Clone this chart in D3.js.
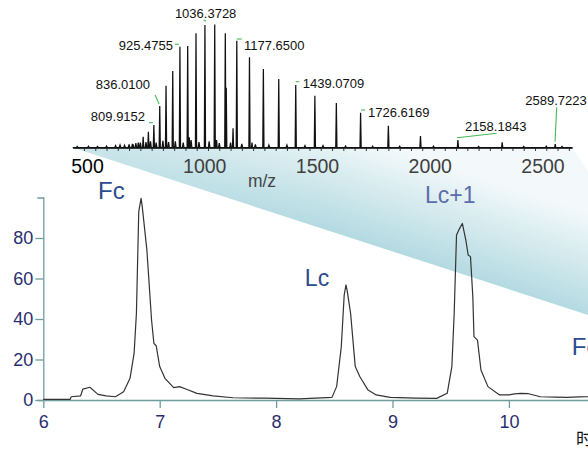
<!DOCTYPE html>
<html><head><meta charset="utf-8">
<script src="https://cdn.jsdelivr.net/npm/d3@7"></script>
<style>
html,body{margin:0;padding:0;background:#fff;overflow:hidden;}
svg{display:block;font-family:"Liberation Sans",Arial,Helvetica,sans-serif;}
</style></head>
<body>
<script>
// ---------- DATA ----------
// Mass spectrum (charge-state envelope), m/z and relative intensity
const peakMz  = [740.8, 762.5, 785.6, 809.9152, 836.0100, 863.9, 893.6, 925.4755, 959.9, 996.8, 1036.3728, 1079.8, 1126.7, 1177.6500, 1233.9, 1295.5, 1363.7, 1439.0709, 1523.9, 1619.1, 1726.6169, 1849.8, 1992.2, 2158.1843, 2354.5, 2589.7223];
const peakInt = [4, 8.8, 12.8, 18.3, 33.7, 50.2, 62.2, 82, 82.5, 92.8, 99.6, 100, 92.8, 86.8, 73.3, 63.8, 55.7, 50.8, 42.1, 36.2, 28.3, 17.7, 9.3, 6.1, 4.2, 2.8];
// satellite / minor peaks
const minorMz  = [718, 967, 1131, 1161, 1088, 1245];
const minorInt = [2.5, 8.4, 48.5, 15.7, 6, 4];
// baseline noise
const noiseMz  = [470, 520, 560, 600, 640, 660, 680, 700, 715, 730, 750, 775, 795, 820, 850, 875, 905, 940, 975, 1010, 1055, 1100, 1150, 1200, 1260, 1320, 1400, 1480, 1560, 1660, 1780, 1900, 2050, 2250, 2450, 2550, 2620];
const noiseInt = [0.8, 1, 0.8, 1.2, 1.5, 2, 1.8, 2.5, 3, 3.5, 4, 4.5, 5, 4, 5.5, 4.5, 5, 4, 6, 4.5, 5, 3.5, 4, 3, 2.5, 2, 2, 1.5, 1.5, 1.2, 1, 1, 1, 0.8, 0.8, 1, 0.8];
// labelled peaks
const labelMz = [809.9152, 836.0100, 925.4755, 1036.3728, 1177.6500, 1439.0709, 1726.6169, 2158.1843, 2589.7223];
const labelText = ["809.9152", "836.0100", "925.4755", "1036.3728", "1177.6500", "1439.0709", "1726.6169", "2158.1843", "2589.7223"];
const specTicks = [500, 1000, 1500, 2000, 2500];
const specAxisTitle = "m/z";

// Chromatogram
const time = [6.0, 6.23, 6.24, 6.32, 6.34, 6.40, 6.47, 6.54, 6.62, 6.69, 6.745, 6.78, 6.80, 6.82, 6.84, 6.85, 6.89, 6.93, 6.95, 6.97, 7.0, 7.045, 7.12, 7.17, 7.23, 7.32, 7.46, 7.63, 7.9, 8.2, 8.48, 8.52, 8.56, 8.585, 8.6, 8.61, 8.64, 8.68, 8.72, 8.79, 8.86, 8.98, 9.2, 9.38, 9.47, 9.51, 9.53, 9.55, 9.57, 9.60, 9.63, 9.65, 9.67, 9.69, 9.70, 9.73, 9.76, 9.82, 9.92, 10.0, 10.05, 10.1, 10.17, 10.27, 10.4, 10.5, 10.6, 10.68, 10.8];
const intensity = [0.3, 0.3, 1.6, 2.0, 5.4, 6.3, 2.8, 2.0, 1.6, 4.1, 10.7, 23, 42.8, 93, 99.6, 95.5, 74, 39.5, 28, 26.8, 16.5, 10.7, 6.1, 6.6, 5.3, 3.3, 2.0, 1.1, 0.9, 0.6, 1.3, 6.6, 26.3, 51.8, 56.8, 54.3, 42.8, 16.5, 11.5, 4.9, 2.5, 1.3, 0.9, 0.8, 3.3, 16.5, 42.8, 81.5, 84, 87.2, 79, 71.6, 70.8, 51, 31.3, 29.6, 14.8, 6.6, 2.5, 2.5, 3.0, 3.3, 3.1, 1.6, 1.4, 1.3, 1.5, 1.6, 1.4];
const xTicks = [6, 7, 8, 9, 10];
const yTicks = [0, 20, 40, 60, 80];
const peakNames = ["Fc", "Lc", "Lc+1", "Fc"];
const peakNameTimes = [6.47, 8.247, 9.279, 10.54];
const xAxisTitle = "时间";

// ---------- DRAWING ----------
const W = 588, H = 450;
const svg = d3.select("body").append("svg").attr("width", W).attr("height", H);
svg.append("rect").attr("width", W).attr("height", H).attr("fill", "#fff");

// scales
const sx = d3.scaleLinear().domain([450, 2665]).range([72.7, 572.2]);
const sy = d3.scaleLinear().domain([0, 100]).range([147.5, 24.5]);
const cx = d3.scaleLinear().domain([6, 11]).range([43.3, 625.3]);
const cy = d3.scaleLinear().domain([0, 100]).range([400, 197.5]);

// gradient wedge (decorative link between spectrum and chromatogram)
const defs = svg.append("defs");
const g1 = defs.append("linearGradient").attr("id", "wedgeGrad")
  .attr("gradientUnits", "userSpaceOnUse")
  .attr("x1", 400).attr("y1", 150).attr("x2", 369).attr("y2", 244);
g1.append("stop").attr("offset", 0).attr("stop-color", "#f3f9fa");
g1.append("stop").attr("offset", 1).attr("stop-color", "#b3dae1");
const g2 = defs.append("linearGradient").attr("id", "wedgeFade")
  .attr("gradientUnits", "userSpaceOnUse")
  .attr("x1", 70).attr("y1", 0).attr("x2", 330).attr("y2", 0);
g2.append("stop").attr("offset", 0).attr("stop-color", "#fff").attr("stop-opacity", 0.3);
g2.append("stop").attr("offset", 1).attr("stop-color", "#fff").attr("stop-opacity", 0);

const y0 = sy(0);
const slope = 0.325;
const wedgePts = [
  [sx(450), y0], [sx(2665), y0], [sx(2665) + 16, y0 + 24], [620, y0 + 24 + 1.45 * (620 - sx(2665) - 16)],
  [620, y0 + slope * (620 - sx(450))]
];
const wedge = d3.line()(wedgePts) + "Z";
svg.append("path").attr("d", wedge).attr("fill", "url(#wedgeGrad)");
svg.append("path").attr("d", wedge).attr("fill", "url(#wedgeFade)");

// ---- Spectrum ----
const allPeaks = [];
peakMz.forEach((m, i) => allPeaks.push({m, h: peakInt[i], w: 2.6}));
minorMz.forEach((m, i) => allPeaks.push({m, h: minorInt[i], w: 2.4}));
noiseMz.forEach((m, i) => allPeaks.push({m, h: noiseInt[i], w: 3.5}));
allPeaks.sort((a, b) => a.m - b.m);
const specPts = [[450, 0]];
allPeaks.forEach(p => { specPts.push([p.m - p.w, 0], [p.m, p.h], [p.m + p.w, 0]); });
specPts.push([2665, 0]);
const specLine = d3.line().x(d => sx(d[0])).y(d => sy(d[1]));

const sAxis = svg.append("g").attr("transform", `translate(0,${y0})`)
  .call(d3.axisBottom(sx).tickValues(d3.range(500, 2651, 50)).tickSize(3.5).tickSizeOuter(0)
    .tickPadding(8).tickFormat(d => specTicks.includes(d) ? d : ""));
sAxis.select(".domain").attr("stroke", "#111").attr("stroke-width", 1.3);
sAxis.selectAll(".tick line").attr("stroke", "#222").attr("stroke-width", 0.9);
sAxis.selectAll(".tick text").attr("font-size", 19.5).attr("font-family", null)
  .attr("fill", d => d === 500 ? "#000" : "#3f3f3f")
  .attr("dx", d => d === 500 ? 3 : 7.5);

svg.append("path").attr("d", specLine(specPts)).attr("fill", "none")
  .attr("stroke", "#111").attr("stroke-width", 1.25).attr("stroke-linejoin", "miter");

svg.append("text").attr("x", 262).attr("y", 187).attr("text-anchor", "middle")
  .attr("font-size", 17.5).attr("fill", "#444").text(specAxisTitle);

// peak annotations (layout offsets relative to peak top)
const annLayout = [
  {anchor: "end",    dx: -8.8, dy: -4,   ln: [-5, -2.3, -1, -2.3]},
  {anchor: "end",    dx: -9.7, dy: -17,  ln: [-4.7, -11, -0.7, -2]},
  {anchor: "end",    dx: -7,   dy: 3.3,  ln: [-5, -2.4, -1, -2.4]},
  {anchor: "middle", dx: 0.7,  dy: -7,   ln: [-1.5, -4.3, 1.2, -4.3]},
  {anchor: "start",  dx: 7.2,  dy: 9.3,  ln: [0, -1.7, 5, -1.7]},
  {anchor: "start",  dx: 7,    dy: 3,    ln: [0, -3.3, 3.5, -3.3]},
  {anchor: "start",  dx: 7.4,  dy: 4.3,  ln: [0.5, -2.7, 4.5, -2.7]},
  {anchor: "start",  dx: 7,    dy: -8.5, ln: [-0.9, -2.3, 38.8, -6.7]},
  {anchor: "start",  dx: -30,  dy: -39,  ln: [1.5, -36.7, -0.2, -2.3]}
];
labelMz.forEach((m, i) => {
  const h = peakInt[peakMz.indexOf(m)];
  const px = sx(m), py = sy(h), L = annLayout[i];
  svg.append("line").attr("x1", px + L.ln[0]).attr("y1", py + L.ln[1])
    .attr("x2", px + L.ln[2]).attr("y2", py + L.ln[3])
    .attr("stroke", "#45b85a").attr("stroke-width", 1.1);
  svg.append("text").attr("x", px + L.dx).attr("y", py + L.dy)
    .attr("text-anchor", L.anchor).attr("font-size", 13).attr("fill", "#111")
    .text(labelText[i]);
});

// ---- Chromatogram ----
const axisCol = "#6e9d9d", tickCol = "#2b2e6e";
const xa = svg.append("g").attr("transform", `translate(0,${cy(0)})`)
  .call(d3.axisBottom(cx).tickValues(xTicks).tickFormat(d3.format("d")).tickSize(8).tickSizeOuter(0).tickPadding(7));
const ya = svg.append("g").attr("transform", `translate(${cx(6)},0)`)
  .call(d3.axisLeft(cy).tickValues(yTicks).tickFormat(d3.format("d")).tickSize(8).tickSizeOuter(6).tickPadding(2));
[xa, ya].forEach(a => {
  a.select(".domain").attr("stroke", axisCol).attr("stroke-width", 1.3);
  a.selectAll(".tick line").attr("stroke", axisCol).attr("stroke-width", 1.3);
  a.selectAll(".tick text").attr("font-size", 18).attr("font-family", null).attr("fill", tickCol);
});

const chromLine = d3.line().x((d, i) => cx(time[i])).y((d, i) => cy(intensity[i]));
svg.append("path").attr("d", chromLine(intensity)).attr("fill", "none")
  .attr("stroke", "#333").attr("stroke-width", 1.2).attr("stroke-linejoin", "round");

// peak names
const nameStyle = [
  {size: 24, fill: "#2d4b8e", v: 99.5},
  {size: 23, fill: "#2d4b8e", v: 56.5},
  {size: 23, fill: "#5d6cab", v: 97.5},
  {size: 24, fill: "#2d4b8e", v: 22.3}
];
peakNames.forEach((n, i) => {
  const s = nameStyle[i];
  svg.append("text").attr("x", cx(peakNameTimes[i])).attr("y", cy(s.v))
    .attr("font-size", s.size).attr("fill", s.fill).text(n);
});

svg.append("text").attr("x", 576).attr("y", 445).attr("font-size", 17)
  .attr("font-family", "'Noto Sans CJK SC', sans-serif").attr("fill", "#111").text(xAxisTitle);
</script>
</body></html>
